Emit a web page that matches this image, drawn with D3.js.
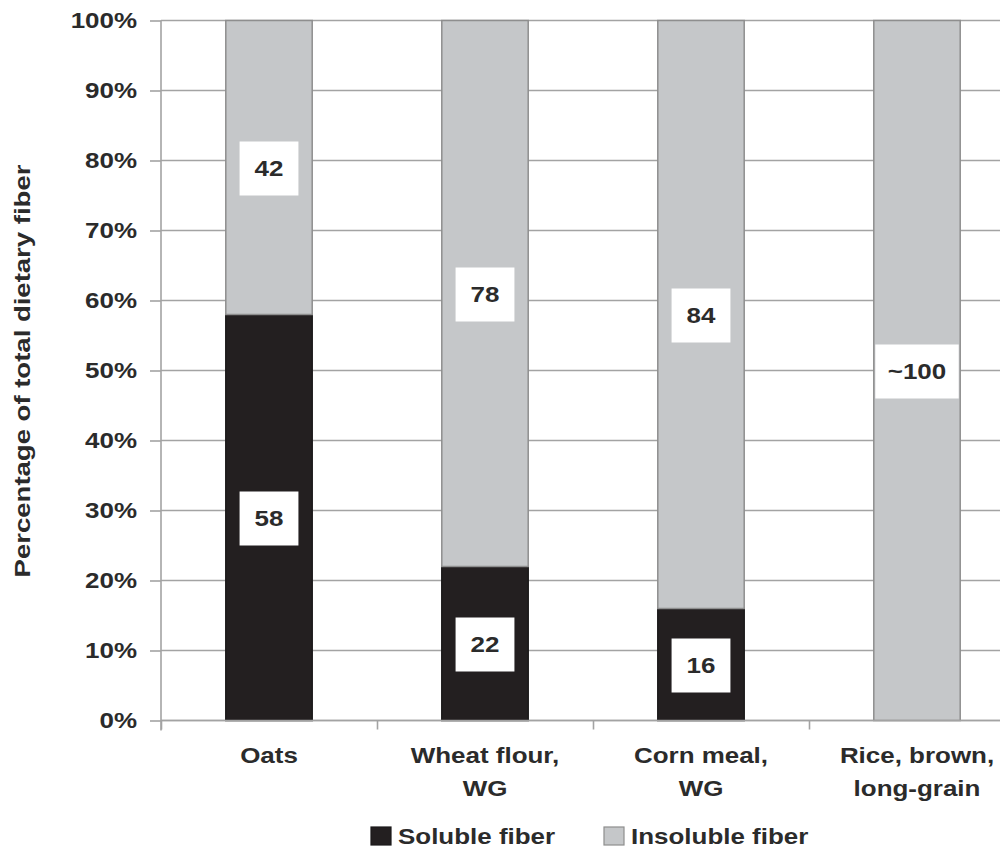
<!DOCTYPE html>
<html>
<head>
<meta charset="utf-8">
<script src="https://cdn.jsdelivr.net/npm/d3@7"></script>
<style>
  html, body { margin: 0; padding: 0; background: #fff; }
  svg { display: block; }
  text { font-family: "Liberation Sans", Arial, Helvetica, sans-serif; font-weight: bold; fill: #2b2b2b; }
</style>
</head>
<body>
<svg id="chart" width="1000" height="849"></svg>
<script>
// Share of total dietary fiber by grain
const categories = ["Oats", "Wheat flour, WG", "Corn meal, WG", "Rice, brown, long-grain"];
const categoryLines = [["Oats"], ["Wheat flour,", "WG"], ["Corn meal,", "WG"], ["Rice, brown,", "long-grain"]];
const soluble = [58, 22, 16, 0];
const insoluble = [42, 78, 84, 100];
const solubleLabels = ["58", "22", "16", null];
const insolubleLabels = ["42", "78", "84", "~100"];
const yTicks = [0, 10, 20, 30, 40, 50, 60, 70, 80, 90, 100];
const seriesNames = ["Soluble fiber", "Insoluble fiber"];

const colors = { soluble: "#231f20", insoluble: "#c5c7c9" };
const strokes = { soluble: "#1c1a1b", insoluble: "#8e8e8e" };
const SX = 1.18; // horizontal stretch of the lettering

const svg = d3.select("#chart");
const plotLeft = 161, plotTop = 20.5, plotBottom = 720.5, plotRight = 1025;

const x = d3.scaleBand().domain(categories).range([plotLeft, plotRight]).paddingInner(0.6).paddingOuter(0.3);
const xEdge = d3.scaleLinear().domain([0, categories.length]).range([plotLeft, plotRight]);
const y = d3.scaleLinear().domain([0, 100]).range([plotBottom, plotTop]);

// horizontal gridlines
svg.append("g").selectAll("line").data(yTicks).join("line")
  .attr("x1", plotLeft).attr("x2", 1000)
  .attr("y1", d => y(d)).attr("y2", d => y(d))
  .attr("stroke", "#a3a3a3").attr("stroke-width", 1.6);

// stacked bars
const rows = categories.map((c, i) => ({ cat: c, soluble: soluble[i], insoluble: insoluble[i] }));
const stack = d3.stack().keys(["soluble", "insoluble"])(rows);
const labels = { soluble: solubleLabels, insoluble: insolubleLabels };

const layers = svg.append("g").selectAll("g").data(stack).join("g");
layers.selectAll("rect").data(s => s.map(d => ({ key: s.key, d }))).join("rect")
  .attr("x", p => x(p.d.data.cat))
  .attr("width", x.bandwidth())
  .attr("y", p => y(p.d[1]))
  .attr("height", p => y(p.d[0]) - y(p.d[1]))
  .attr("fill", p => colors[p.key])
  .attr("stroke", p => p.d[1] - p.d[0] > 0 ? strokes[p.key] : "none")
  .attr("stroke-width", 1.5);

// value labels on white boxes
const labelFont = 22;
stack.forEach(s => {
  s.forEach((d, i) => {
    const txt = labels[s.key][i];
    if (!txt) return;
    const cx = x(d.data.cat) + x.bandwidth() / 2;
    const cy = y((d[0] + d[1]) / 2) + 1;
    const g = svg.append("g");
    const rect = g.append("rect").attr("fill", "#fff");
    const t = g.append("text")
      .attr("transform", `translate(${cx},${cy}) scale(${SX},1)`)
      .attr("text-anchor", "middle").attr("dy", "0.36em")
      .style("font-size", labelFont + "px").text(txt);
    const w = Math.min(t.node().getComputedTextLength() * SX + 30, x.bandwidth() - 3);
    const h = 54;
    rect.attr("x", cx - w / 2).attr("y", cy - h / 2).attr("width", w).attr("height", h);
  });
});

// y axis
const yAxis = svg.append("g").attr("transform", `translate(${plotLeft},0)`)
  .call(d3.axisLeft(y).tickValues(yTicks).tickFormat(d => d + "%").tickSize(11).tickPadding(13));
yAxis.select(".domain").attr("stroke", "#a3a3a3").attr("stroke-width", 1.6).attr("d", `M0,${plotTop}V${plotBottom + 10}`);
yAxis.selectAll(".tick line").attr("stroke", "#a3a3a3").attr("stroke-width", 1.6);
yAxis.selectAll(".tick text")
  .attr("x", -24 / SX).attr("transform", `scale(${SX},1)`)
  .style("font-size", "22px").attr("fill", "#2b2b2b");

// x axis ticks at category boundaries
const xAxis = svg.append("g").attr("transform", `translate(0,${plotBottom})`)
  .call(d3.axisBottom(xEdge).tickValues(d3.range(categories.length + 1)).tickFormat("").tickSize(9));
xAxis.select(".domain").attr("stroke", "#a3a3a3").attr("stroke-width", 1.6).attr("d", `M${plotLeft},0H${plotRight}`);
xAxis.selectAll(".tick line").attr("stroke", "#a3a3a3").attr("stroke-width", 1.6);

// category labels
categories.forEach((c, i) => {
  const cx = x(c) + x.bandwidth() / 2;
  categoryLines[i].forEach((line, j) => {
    svg.append("text")
      .attr("transform", `translate(${cx},${763 + j * 33}) scale(${SX},1)`)
      .attr("text-anchor", "middle").style("font-size", "22px").text(line);
  });
});

// y axis title
svg.append("text")
  .attr("transform", `translate(30,371) rotate(-90) scale(${SX * 1.06},1)`)
  .attr("text-anchor", "middle").style("font-size", "22px")
  .text("Percentage of total dietary fiber");

// legend
const legendItems = [
  { name: seriesNames[0], key: "soluble", x: 371 },
  { name: seriesNames[1], key: "insoluble", x: 604 }
];
legendItems.forEach(it => {
  svg.append("rect").attr("x", it.x).attr("y", 827).attr("width", 20).attr("height", 18)
    .attr("fill", colors[it.key]).attr("stroke", strokes[it.key]).attr("stroke-width", 1.2);
  svg.append("text")
    .attr("transform", `translate(${it.x + 27},844) scale(${SX},1)`)
    .style("font-size", "22px").text(it.name);
});
</script>
</body>
</html>
